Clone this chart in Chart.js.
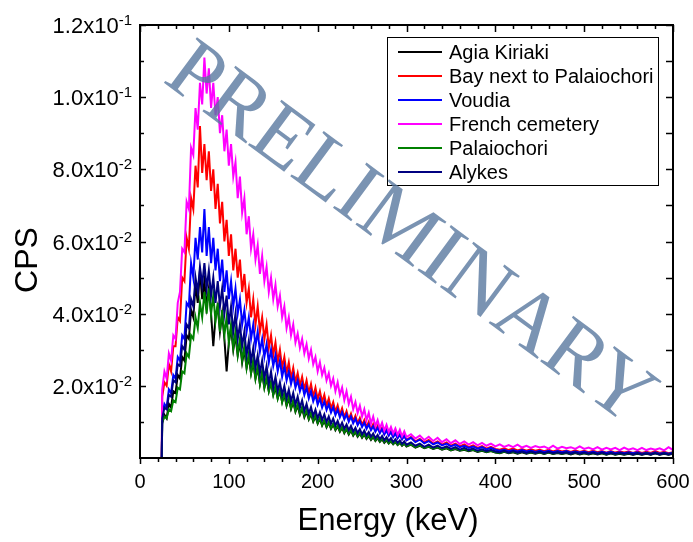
<!DOCTYPE html>
<html>
<head>
<meta charset="utf-8">
<title>CPS vs Energy</title>
<script src="https://cdn.jsdelivr.net/npm/chart.js@4.4.1/dist/chart.umd.min.js"></script>
<style>
  html, body { margin: 0; padding: 0; background: #fff; }
  canvas { display: block; }
</style>
</head>
<body>
<canvas id="spectra" width="693" height="542"></canvas>
<script>
// energy channels (keV)
const energy = [
  0, 24.5,
  25, 27.5, 30, 32.5, 35, 37.5, 40, 42.5, 45, 47.5,
  50, 52.5, 55, 57.5, 60, 62.5, 65, 67.5, 70, 72.5,
  75, 77.5, 80, 82.5, 85, 87.5, 90, 92.5, 95, 97.5,
  100, 102.5, 105, 107.5, 110, 112.5, 115, 117.5, 120, 122.5,
  125, 127.5, 130, 132.5, 135, 137.5, 140, 142.5, 145, 147.5,
  150, 152.5, 155, 157.5, 160, 162.5, 165, 167.5, 170, 172.5,
  175, 177.5, 180, 182.5, 185, 187.5, 190, 192.5, 195, 197.5,
  200, 202.5, 205, 207.5, 210, 212.5, 215, 217.5, 220, 222.5,
  225, 227.5, 230, 232.5, 235, 237.5, 240, 242.5, 245, 247.5,
  250, 252.5, 255, 257.5, 260, 262.5, 265, 267.5, 270, 272.5,
  275, 277.5, 280, 282.5, 285, 287.5, 290, 292.5, 295, 297.5,
  300,
  305, 310, 315, 320, 325, 330, 335, 340, 345, 350,
  355, 360, 365, 370, 375, 380, 385, 390, 395, 400,
  405, 410, 415, 420, 425, 430, 435, 440, 445, 450,
  455, 460, 465, 470, 475, 480, 485, 490, 495, 500,
  505, 510, 515, 520, 525, 530, 535, 540, 545, 550,
  555, 560, 565, 570, 575, 580, 585, 590, 595, 600
];

// count rates, in units of 1e-3 CPS
const agiaKiriaki = [
  0, 0,
  9.5, 12, 11, 15, 14, 18.5, 18, 23, 22, 28,
  27, 34, 33, 41, 39, 48, 43, 52, 44, 49,
  42, 47, 40, 31, 39, 42, 35, 40, 33, 24,
  32, 36, 30, 34, 28.5, 32, 26.5, 30, 25, 28,
  23.5, 26.5, 22, 25, 20.5, 23.5, 19.5, 22, 18.5, 21,
  17.5, 19.5, 16.5, 18.5, 15.5, 17.5, 14.5, 16.5, 13.6, 15.5,
  12.8, 14.5, 12, 13.7, 11.3, 12.9, 10.7, 12.2, 10.1, 11.5,
  9.5, 10.9, 9, 10.3, 8.5, 9.8, 8.1, 9.3, 7.7, 8.8,
  7.3, 8.4, 6.9, 8, 6.5, 7.6, 6.2, 7.2, 5.9, 6.8,
  5.6, 6.5, 5.3, 6.1, 5, 5.8, 4.7, 5.5, 4.5, 5.2,
  4.2, 4.9, 4, 4.6, 3.8, 4.4, 3.6, 4.2, 3.4, 4,
  3.2,
  3.7, 2.9, 3.4, 2.7, 3.1, 2.5, 2.9, 2.3, 2.7, 2.1,
  2.5, 2.0, 2.3, 1.9, 2.2, 1.7, 2.0, 1.6, 1.9, 1.5,
  1.3, 1.7, 1.3, 1.6, 1.2, 1.6, 1.2, 1.5, 1.2, 1.5,
  1.1, 1.5, 1.1, 1.4, 1.1, 1.4, 1.0, 1.4, 1.0, 1.3,
  1.0, 1.3, 1.0, 1.3, 0.9, 1.3, 0.9, 1.2, 0.9, 1.2,
  0.9, 1.2, 0.9, 1.2, 0.9, 1.3, 0.9, 1.2, 0.9, 1.2
];
const bayPalaiochori = [
  0, 0,
  17, 21, 20, 26, 24, 31, 31, 39, 38, 50,
  49, 61, 58, 72, 69, 81, 75, 92, 79, 87,
  77, 85, 74, 80, 69, 76, 65, 71, 60, 66,
  56, 62, 52, 58, 50, 55, 46, 51, 43, 47,
  39, 44, 37, 42, 35, 39, 33, 37, 30.5, 34,
  28.5, 32, 26.5, 30, 25, 28, 23.5, 26.5, 22, 25,
  21, 23.5, 20, 22.5, 19, 21.5, 18, 20.5, 17, 19.5,
  16.3, 18.5, 15.5, 17.5, 14.5, 16.5, 13.7, 15.5, 12.8, 14.6,
  12, 13.8, 11.3, 13, 10.7, 12.3, 10.2, 11.7, 9.6, 11.1,
  9.1, 10.5, 8.6, 10, 8.1, 9.4, 7.6, 8.9, 7.2, 8.4,
  6.7, 7.9, 6.3, 7.4, 6.0, 7.0, 5.6, 6.6, 5.3, 6.3,
  5.0,
  5.8, 4.6, 5.3, 4.3, 5.0, 4.0, 4.6, 3.7, 4.3, 3.4,
  4.0, 3.2, 3.8, 3.0, 3.5, 2.8, 3.3, 2.6, 3.1, 2.5,
  2.3, 2.7, 2.2, 2.6, 2.1, 2.5, 2.0, 2.4, 2.0, 2.3,
  1.9, 2.3, 1.8, 2.2, 1.8, 2.1, 1.7, 2.1, 1.7, 2.0,
  1.6, 2.0, 1.6, 1.9, 1.5, 1.9, 1.5, 1.8, 1.5, 1.8,
  1.4, 1.8, 1.4, 1.7, 1.4, 1.9, 1.4, 1.7, 1.3, 1.6
];
const voudia = [
  0, 0,
  12, 15, 14, 19, 18, 23, 22, 28, 27, 34,
  33, 43, 42, 54, 50, 61, 55, 64, 57, 69,
  56, 64, 54, 61, 52, 58, 49, 55, 46, 52,
  44, 49, 42, 47, 40, 44, 37, 41, 35, 39,
  33, 37, 31, 35, 29.5, 33, 28, 31.5, 26.5, 30,
  25.5, 28.5, 24, 27, 22.5, 25.5, 21.5, 24, 20.5, 23,
  19.5, 21.5, 18.5, 20.5, 17.5, 19.5, 16.5, 18.5, 15.7, 17.5,
  14.8, 16.5, 14, 15.7, 13.3, 14.9, 12.6, 14.1, 11.9, 13.4,
  11.3, 12.7, 10.7, 12.1, 10.1, 11.5, 9.6, 10.9, 9.1, 10.3,
  8.6, 9.8, 8.1, 9.3, 7.7, 8.8, 7.3, 8.4, 6.9, 8.0,
  6.5, 7.6, 6.2, 7.2, 5.8, 6.8, 5.5, 6.4, 5.2, 6.1,
  4.9,
  5.6, 4.4, 5.1, 4.1, 4.7, 3.8, 4.3, 3.5, 4.0, 3.2,
  3.7, 3.0, 3.4, 2.8, 3.2, 2.6, 3.0, 2.4, 2.8, 2.3,
  2.0, 2.3, 1.9, 2.2, 1.8, 2.2, 1.8, 2.1, 1.7, 2.0,
  1.7, 2.0, 1.6, 1.9, 1.6, 1.9, 1.5, 1.8, 1.5, 1.8,
  1.4, 1.8, 1.4, 1.7, 1.4, 1.7, 1.3, 1.6, 1.3, 1.6,
  1.3, 1.6, 1.2, 1.5, 1.2, 1.6, 1.2, 1.5, 1.2, 1.5
];
const frenchCemetery = [
  0, 0,
  19, 24, 22, 29, 27, 34, 33, 43, 46, 58,
  57, 71, 69, 86, 84, 97, 91, 104, 98, 111,
  101, 108, 97, 104, 95, 100, 90, 95, 85, 91,
  81, 87, 78, 82, 72, 78, 68, 72, 62, 67,
  58, 62, 55, 59, 51, 56, 49, 53, 46, 50,
  44, 48, 42, 45, 39, 42, 36, 39, 34, 37,
  32, 34.5, 30.5, 33, 29, 31.5, 27.5, 30, 26, 28,
  24, 26.5, 23, 25, 21.5, 23.5, 20, 22, 18.5, 21,
  17.5, 19.5, 16, 18.5, 15, 17, 13.5, 15.5, 12.5, 14.5,
  11.5, 13.5, 10.5, 12.5, 9.5, 11.5, 8.8, 10.5, 8.2, 9.8,
  7.6, 9.2, 7.2, 8.6, 6.8, 8.2, 6.4, 7.8, 6.0, 7.4,
  5.8,
  6.6, 5.4, 6.2, 5.0, 5.9, 4.7, 5.6, 4.4, 5.2, 4.1,
  4.9, 3.9, 4.6, 3.7, 4.4, 3.5, 4.2, 3.4, 4.0, 3.2,
  3.8, 3.1, 3.6, 3.0, 3.7, 2.9, 3.4, 2.8, 3.3, 2.9,
  3.2, 2.6, 3.4, 2.6, 3.1, 2.7, 3.0, 2.5, 3.2, 2.5,
  2.9, 2.4, 3.0, 2.3, 2.8, 2.4, 2.8, 2.2, 2.9, 2.3,
  2.7, 2.2, 2.8, 2.2, 2.6, 2.3, 2.7, 2.1, 3.0, 2.2
];
const palaiochori = [
  0, 0,
  10, 11.5, 11, 13.5, 13, 16, 15.5, 19.5, 19, 24,
  23.5, 29, 28, 34, 33, 39, 36, 43, 39, 46,
  40, 47, 40, 45, 38, 43, 35, 41, 34, 39,
  32, 37, 30.5, 35, 28.5, 33, 27, 31, 25, 29,
  23.5, 27, 22, 25.5, 20.5, 24, 19.5, 22.5, 18.5, 21,
  17.5, 20, 16.5, 19, 15.5, 18, 14.7, 17, 13.8, 16,
  13, 15, 12.3, 14.1, 11.6, 13.3, 10.9, 12.6, 10.3, 11.9,
  9.7, 11.2, 9.2, 10.6, 8.7, 10, 8.3, 9.5, 7.9, 9,
  7.5, 8.6, 7.1, 8.2, 6.7, 7.8, 6.4, 7.4, 6.1, 7,
  5.8, 6.7, 5.5, 6.3, 5.2, 6, 4.9, 5.7, 4.6, 5.4,
  4.4, 5.1, 4.1, 4.8, 3.9, 4.5, 3.7, 4.3, 3.5, 4,
  3.3,
  3.8, 3.0, 3.5, 2.8, 3.2, 2.6, 3.0, 2.4, 2.8, 2.2,
  2.6, 2.1, 2.4, 2.0, 2.3, 1.8, 2.1, 1.7, 2.0, 1.6,
  1.4, 1.8, 1.4, 1.7, 1.3, 1.7, 1.3, 1.6, 1.3, 1.6,
  1.2, 1.6, 1.2, 1.5, 1.2, 1.5, 1.1, 1.5, 1.1, 1.4,
  1.1, 1.4, 1.1, 1.4, 1.0, 1.4, 1.0, 1.3, 1.0, 1.3,
  1.0, 1.3, 1.0, 1.3, 1.0, 1.4, 1.0, 1.3, 1.0, 1.3
];
const alykes = [
  0, 0,
  11, 14, 13.5, 17.5, 17, 21.5, 21, 26, 25.5, 31,
  30, 37, 36, 44, 42, 50, 46, 53, 48, 54,
  47, 52, 45, 50, 43, 49, 42, 47, 40, 45,
  37, 42, 35, 40, 33, 37, 31, 35, 28.5, 32.5,
  26.5, 30.5, 25, 28.5, 23.5, 27, 22, 25.5, 20.5, 24,
  19.5, 22.5, 18.5, 21, 17.5, 20, 16.5, 19, 15.7, 18,
  14.8, 17, 13.9, 16, 13, 15, 12.3, 14.1, 11.6, 13.4,
  11, 12.7, 10.5, 12.1, 10, 11.5, 9.5, 10.9, 9, 10.3,
  8.5, 9.8, 8.1, 9.3, 7.7, 8.9, 7.3, 8.4, 6.9, 8.0,
  6.5, 7.6, 6.2, 7.2, 5.9, 6.8, 5.5, 6.4, 5.2, 6.1,
  4.9, 5.8, 4.7, 5.5, 4.4, 5.2, 4.2, 4.9, 3.9, 4.6,
  3.7,
  4.3, 3.4, 4.0, 3.1, 3.7, 2.9, 3.4, 2.7, 3.2, 2.5,
  3.0, 2.3, 2.8, 2.2, 2.6, 2.0, 2.4, 1.9, 2.3, 1.8,
  1.6, 2.0, 1.5, 1.9, 1.5, 1.8, 1.4, 1.8, 1.4, 1.7,
  1.3, 1.7, 1.3, 1.6, 1.3, 1.6, 1.2, 1.6, 1.2, 1.5,
  1.2, 1.5, 1.1, 1.5, 1.1, 1.4, 1.1, 1.4, 1.1, 1.4,
  1.0, 1.4, 1.0, 1.3, 1.0, 1.4, 1.0, 1.3, 1.0, 1.3
];

const seriesNames = ['Agia Kiriaki', 'Bay next to Palaiochori', 'Voudia', 'French cemetery', 'Palaiochori', 'Alykes'];
const seriesValues = [agiaKiriaki, bayPalaiochori, voudia, frenchCemetery, palaiochori, alykes];
const seriesColors = ['#000000', '#ff0000', '#0000ff', '#ff00ff', '#008000', '#000080'];

// axes
const xMajorTicks = [0, 100, 200, 300, 400, 500, 600];
const xMinorTicks = [20, 40, 60, 80, 120, 140, 160, 180, 220, 240, 260, 280, 320, 340, 360, 380, 420, 440, 460, 480, 520, 540, 560, 580];
const yMajorTicks = [0.02, 0.04, 0.06, 0.08, 0.10, 0.12];
const yMinorTicks = [0.01, 0.03, 0.05, 0.07, 0.09, 0.11];
const yTickLabels = [['2.0x10', '-2'], ['4.0x10', '-2'], ['6.0x10', '-2'], ['8.0x10', '-2'], ['1.0x10', '-1'], ['1.2x10', '-1']];

const SANS = '"Liberation Sans", Arial, sans-serif';

// frame, ticks, y labels with exponent, axis titles, legend, watermark
const decorPlugin = {
    id: 'decor',
    afterDraw(chart) {
        const { ctx, chartArea: a, scales: { x, y } } = chart;
        ctx.save();
        ctx.strokeStyle = '#000';
        ctx.lineWidth = 2;
        ctx.strokeRect(a.left, a.top, a.right - a.left, a.bottom - a.top);

        ctx.lineWidth = 1.5;
        const line = (x1, y1, x2, y2) => { ctx.beginPath(); ctx.moveTo(x1, y1); ctx.lineTo(x2, y2); ctx.stroke(); };
        xMajorTicks.forEach(v => {
            const px = Math.round(x.getPixelForValue(v)) + 0.5;
            line(px, a.bottom, px, a.bottom + 6);
            line(px, a.top, px, a.top + 7);
        });
        xMinorTicks.forEach(v => {
            const px = Math.round(x.getPixelForValue(v)) + 0.5;
            line(px, a.bottom, px, a.bottom + 4);
            line(px, a.top, px, a.top + 4);
        });
        yMajorTicks.forEach(v => {
            const py = Math.round(y.getPixelForValue(v)) + 0.5;
            line(a.left, py, a.left + 6, py);
            line(a.right, py, a.right - 7, py);
        });
        yMinorTicks.forEach(v => {
            const py = Math.round(y.getPixelForValue(v)) + 0.5;
            line(a.left, py, a.left + 4, py);
            line(a.right, py, a.right - 7, py);
        });

        // y tick labels: mantissa x 10 with superscript exponent
        ctx.fillStyle = '#000';
        ctx.textAlign = 'right';
        ctx.textBaseline = 'alphabetic';
        yMajorTicks.forEach((v, i) => {
            const py = y.getPixelForValue(v);
            const [base, exp] = yTickLabels[i];
            ctx.font = '15px ' + SANS;
            const ew = ctx.measureText(exp).width;
            ctx.fillText(exp, 132, py);
            ctx.font = '22px ' + SANS;
            ctx.fillText(base, 132 - ew, py + 8);
        });

        // axis titles
        ctx.textAlign = 'center';
        ctx.font = '31px ' + SANS;
        ctx.fillText('Energy (keV)', 388, 530);
        ctx.save();
        ctx.translate(37, 260);
        ctx.rotate(-Math.PI / 2);
        ctx.font = '32px ' + SANS;
        ctx.fillText('CPS', 0, 0);
        ctx.restore();

        // legend
        ctx.fillStyle = '#fff';
        ctx.fillRect(387, 37, 271, 148);
        ctx.lineWidth = 1;
        ctx.strokeStyle = '#000';
        ctx.strokeRect(387.5, 37.5, 271, 148);
        ctx.textAlign = 'left';
        ctx.font = '20px ' + SANS;
        seriesNames.forEach((name, i) => {
            const ry = 52 + i * 24;
            ctx.strokeStyle = seriesColors[i];
            ctx.lineWidth = 2;
            line(398, ry, 442, ry);
            ctx.fillStyle = '#000';
            ctx.fillText(name, 449, ry + 7);
        });

        // watermark
        ctx.translate(413, 231);
        ctx.rotate(36.5 * Math.PI / 180);
        ctx.font = '86px "Liberation Serif", "Times New Roman", serif';
        ctx.textAlign = 'center';
        ctx.fillStyle = 'rgba(89, 120, 159, 0.8)';
        ctx.fillText('PRELIMINARY', 0, 29);
        ctx.restore();
    }
};

const datasets = seriesNames.map((name, i) => ({
    label: name,
    data: energy.map((e, k) => ({ x: e, y: seriesValues[i][k] / 1000 })),
    borderColor: seriesColors[i],
    backgroundColor: seriesColors[i],
    borderWidth: 2,
    pointRadius: 0,
    tension: 0,
    fill: false,
    order: seriesNames.length - 1 - i   // last listed drawn on top
}));

const ctx = document.getElementById('spectra').getContext('2d');
window.spectraChart = new Chart(ctx, {
    type: 'line',
    data: { datasets: datasets },
    options: {
        responsive: false,
        animation: false,
        layout: { padding: { top: 25, right: 20, left: 0, bottom: 0 } },
        plugins: {
            legend: { display: false },
            tooltip: { enabled: false }
        },
        scales: {
            x: {
                type: 'linear',
                min: 0,
                max: 600,
                grid: { display: false, drawTicks: false },
                border: { display: false },
                ticks: {
                    stepSize: 100,
                    padding: 12,
                    color: '#000',
                    font: { family: 'Liberation Sans', size: 20 },
                    maxRotation: 0
                },
                afterFit(scale) {
                    scale.height = 84;
                    scale.paddingLeft = 0;
                    scale.paddingRight = 0;
                }
            },
            y: {
                type: 'linear',
                min: 0,
                max: 0.12,
                grid: { display: false, drawTicks: false },
                border: { display: false },
                ticks: { display: false, stepSize: 0.02 },
                afterFit(scale) { scale.width = 140; }
            }
        }
    },
    plugins: [decorPlugin]
});
</script>
</body>
</html>
